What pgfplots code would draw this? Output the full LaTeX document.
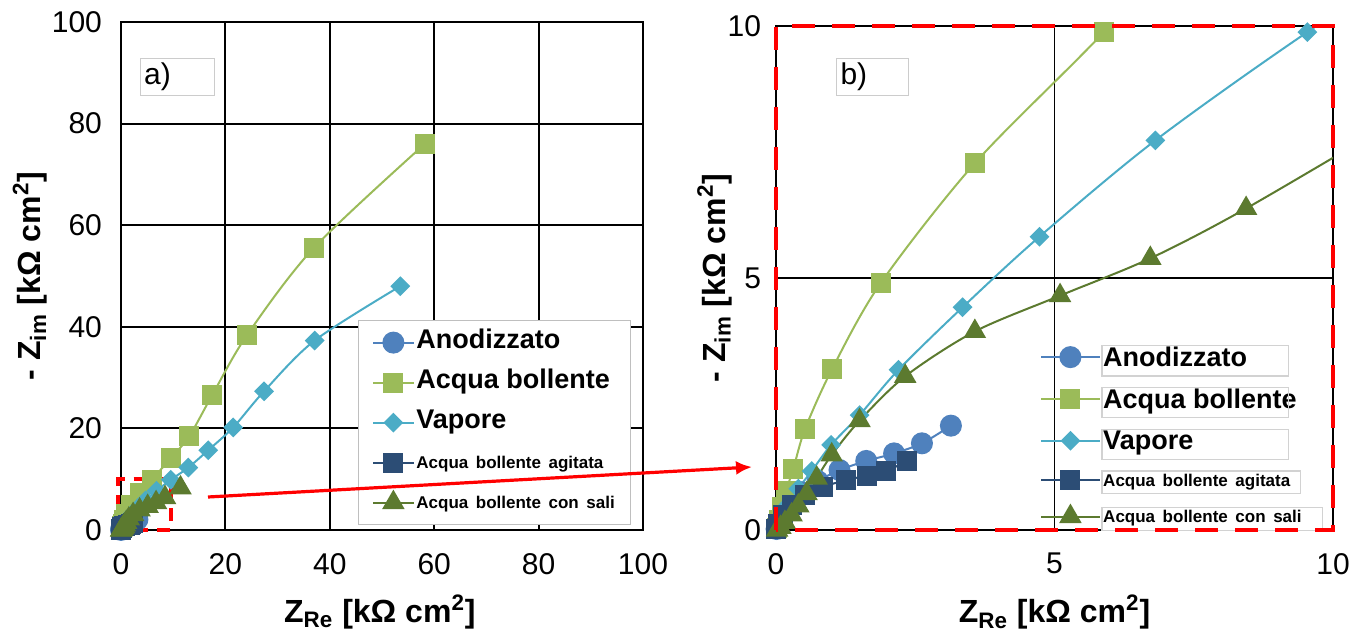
\documentclass[border=0pt]{standalone}
\usepackage{fontspec}
\setmainfont{Liberation Sans}
\usepackage{pgfplots}
\pgfplotsset{compat=1.18}
\usepackage{pgfplotstable}
\usetikzlibrary{arrows.meta}

\definecolor{anod}{HTML}{4F81BD}
\definecolor{bollente}{HTML}{9BBB59}
\definecolor{vapore}{HTML}{4BACC6}
\definecolor{agitata}{HTML}{2C4D75}
\definecolor{sali}{HTML}{5C7A2F}

% Z_Re, -Z_im in kOhm cm2
\pgfplotstableread{
x y
0.01 0.02
0.05 0.12
0.12 0.30
0.25 0.52
0.45 0.75
0.75 0.97
1.14 1.19
1.62 1.37
2.12 1.52
2.62 1.72
3.14 2.07
}\anodizzato

\pgfplotstableread{
x y
0.01 0.03
0.05 0.20
0.10 0.45
0.18 0.78
0.31 1.21
0.52 2.00
1.01 3.20
1.88 4.90
3.58 7.29
5.89 9.88
9.5 14.1
13.1 18.5
17.5 26.6
24.1 38.3
36.9 55.5
58.2 76.0
}\bollente

\pgfplotstableread{
x y
0.01 0.02
0.04 0.10
0.10 0.25
0.22 0.50
0.40 0.82
0.64 1.17
0.99 1.69
1.50 2.28
2.20 3.18
3.35 4.42
4.73 5.82
6.81 7.73
9.54 9.88
12.9 12.3
16.7 15.7
21.5 20.2
27.4 27.3
37.1 37.3
53.5 48.0
}\vapore

\pgfplotstableread{
x y
0.00 0.02
0.04 0.12
0.13 0.30
0.28 0.50
0.52 0.70
0.85 0.86
1.26 0.99
1.63 1.08
1.98 1.17
2.35 1.37
}\agitata

\pgfplotstableread{
x y
0.02 0.00
0.08 0.05
0.16 0.15
0.28 0.30
0.40 0.48
0.55 0.72
0.73 1.03
1.00 1.49
1.50 2.17
2.32 3.05
3.57 3.94
5.10 4.65
6.72 5.39
8.44 6.38
11.4 8.3
}\sali

\newcommand{\lbox}[2]{{\setlength{\fboxsep}{0.3pt}\setlength{\fboxrule}{0.6pt}\fcolorbox{gray!35}{white}{\makebox[#1][l]{#2}}}}
\newcommand{\bigleg}{\fontsize{13.5}{14}\selectfont\bfseries\strut}
\newcommand{\smallleg}{\fontsize{8.5}{10}\selectfont\bfseries\strut}

\pgfplotsset{
  eisstyle/.style={
    scale only axis,
    grid=major,
    major grid style={black, line width=1pt},
    axis line style={black, line width=1.2pt},
    major tick length=0pt,
    tick label style={font=\fontsize{15}{15}\selectfont},
    /pgf/number format/assume math mode=true,
    label style={font=\bfseries\fontsize{16}{18}\selectfont},
    every axis plot/.append style={line width=1pt, smooth},
    legend image code/.code={\draw[mark repeat=2,mark phase=2,##1] plot coordinates {(0pt,0pt) (10pt,0pt) (20pt,0pt)};},
    legend cell align=left,
    xlabel={Z\textsubscript{Re} [kΩ cm\textsuperscript{2}]},
    ylabel={- Z\textsubscript{im} [kΩ cm\textsuperscript{2}]},
  },
  s1/.style={color=anod, mark=*, mark size=5pt},
  s2/.style={color=bollente, mark=square*, mark size=4.5pt},
  s3/.style={color=vapore, mark=square*, mark size=3pt, mark options={rotate=45}},
  s4/.style={color=agitata, mark=square*, mark size=4.5pt},
  s5/.style={color=sali, mark=triangle*, mark size=5.5pt},
}

\begin{document}
\begin{tikzpicture}
\useasboundingbox (0pt,0pt) rectangle (684.5pt,319pt);

\begin{axis}[eisstyle, name=L,
  at={(60.5pt,54pt)}, anchor=south west, width=261pt, height=254pt,
  xmin=0, xmax=100, ymin=0, ymax=100,
  xtick={0,20,...,100}, ytick={0,20,...,100},
  clip=false,
  xticklabel style={yshift=-8pt}, yticklabel style={xshift=-6pt},
  xlabel style={at={(axis description cs:0.496,-0.161)}, anchor=center},
  ylabel style={at={(axis description cs:-0.174,0.5)}, anchor=center},
  legend style={at={(axis description cs:0.454,0.413)}, anchor=north west,
    draw=gray!50, fill=white, inner xsep=7pt, inner ysep=3pt, row sep=4pt,
    nodes={inner sep=1pt, text height=10pt, text depth=4pt}},
]
\addplot[s1] table {\anodizzato}; \addlegendentry{\bigleg Anodizzato}
\addplot[s2] table {\bollente}; \addlegendentry{\bigleg Acqua bollente}
\addplot[s3] table {\vapore}; \addlegendentry{\bigleg Vapore}
\addplot[s4] table {\agitata}; \addlegendentry{\smallleg Acqua\, bollente\, agitata}
\addplot[s5] table {\sali}; \addlegendentry{\smallleg Acqua\, bollente\, con\, sali}
\node[draw=gray!40, anchor=north west, inner sep=2pt, text width=33pt, minimum height=18.5pt]
  at (rel axis cs:0.036,0.929) {\fontsize{15}{15}\selectfont a)};
\draw[red, line width=2pt, dash pattern=on 6.5pt off 4.5pt] (axis cs:-0.5,0) rectangle (axis cs:9.5,10);
\end{axis}

\begin{axis}[eisstyle, name=R,
  at={(388pt,54pt)}, anchor=south west, width=278.5pt, height=252pt,
  xmin=0, xmax=10, ymin=0, ymax=10,
  xtick={0,5,10}, ytick={0,5,10},
  major grid style={black, line width=0.8pt},
  xticklabel style={yshift=-8pt}, yticklabel style={xshift=-4pt},
  xlabel style={at={(axis description cs:0.5,-0.163)}, anchor=center},
  ylabel style={at={(axis description cs:-0.11,0.5)}, anchor=center},
  legend image code/.code={\draw[mark repeat=2,mark phase=2,#1] plot coordinates {(0pt,0pt) (14.5pt,0pt) (29pt,0pt)};},
  legend style={at={(axis description cs:0.474,0.37)}, anchor=north west,
    draw=none, fill=none, inner sep=0pt, row sep=7.7pt,
    nodes={inner sep=0.5pt}},
]
\addplot[s1] table {\anodizzato}; \addlegendentry{\lbox{92pt}{\bigleg Anodizzato}}
\addplot[s2] table {\bollente}; \addlegendentry{\lbox{92pt}{\bigleg Acqua bollente}}
\addplot[s3] table {\vapore}; \addlegendentry{\lbox{92pt}{\bigleg Vapore}}
\addplot[s4] table {\agitata}; \addlegendentry{\lbox{98pt}{\smallleg Acqua\, bollente\, agitata}}
\addplot[s5] table {\sali}; \addlegendentry{\lbox{109pt}{\smallleg Acqua\, bollente\, con\, sali}}
\node[draw=gray!40, anchor=north west, inner sep=2pt, text width=32pt, minimum height=18.5pt]
  at (rel axis cs:0.108,0.937) {\fontsize{15}{15}\selectfont b)};
\end{axis}

\draw[red, line width=2.3pt, dash pattern=on 11.5pt off 8.5pt] (R.south west) rectangle (R.north east);
\draw[red, line width=1.6pt, -{Latex[length=8pt,width=7pt]}] (104pt,70.5pt) -- (376pt,85.5pt);
\end{tikzpicture}
\end{document}
